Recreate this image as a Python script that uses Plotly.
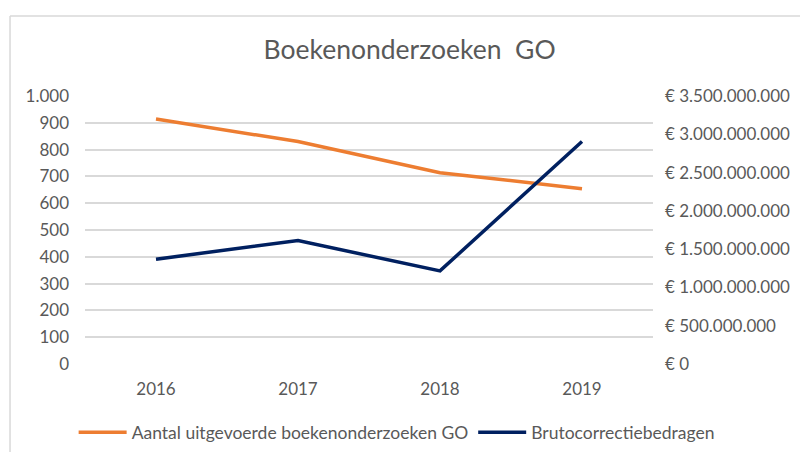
import plotly.graph_objects as go

years = ["2016", "2017", "2018", "2019"]
aantal = [914, 830, 714, 654]
bruto = [1369000000, 1612000000, 1216000000, 2906000000]
left_ticks = [0, 100, 200, 300, 400, 500, 600, 700, 800, 900, 1000]
right_ticks = [0, 500000000, 1000000000, 1500000000, 2000000000, 2500000000, 3000000000, 3500000000]

def eur(v):
    return "€ " + f"{v:,d}".replace(",", ".")

def num(v):
    return f"{v:,d}".replace(",", ".")

font_fam = "Lato, Open Sans, sans-serif"
gray = "#595959"

fig = go.Figure()
fig.add_trace(go.Scatter(x=years, y=aantal, mode="lines", name="Aantal uitgevoerde boekenonderzoeken GO",
                         line=dict(color="#ED7D31", width=3.5), yaxis="y"))
fig.add_trace(go.Scatter(x=years, y=bruto, mode="lines", name="Brutocorrectiebedragen",
                         line=dict(color="#002060", width=3.5), yaxis="y2"))

fig.update_layout(
    width=800, height=452,
    margin=dict(l=85, r=147, t=96, b=88, autoexpand=False),
    paper_bgcolor="white", plot_bgcolor="white",
    font=dict(family=font_fam, color=gray, size=17),
    title=dict(text="Boekenonderzoeken  GO", x=0.512, xanchor="center", y=0.89, yanchor="middle",
               font=dict(size=26.5, color=gray, family=font_fam)),
    xaxis=dict(type="category", range=[-0.5, 3.5], showgrid=False, zeroline=False, showline=False,
               automargin=False, tickfont=dict(size=17, color=gray), ticklabelstandoff=13),
    yaxis=dict(range=[0, 1000], tickvals=left_ticks, ticktext=[num(v) for v in left_ticks],
               showgrid=True, gridcolor="#D9D9D9", gridwidth=1.5, zeroline=False, showline=False,
               automargin=False, tickfont=dict(size=17, color=gray), ticklabelstandoff=15),
    yaxis2=dict(range=[0, 3500000000], tickvals=right_ticks, ticktext=[eur(v) for v in right_ticks],
                overlaying="y", side="right", showgrid=False, zeroline=False, showline=False,
                automargin=False, tickfont=dict(size=17, color=gray), ticklabelstandoff=11),
    legend=dict(orientation="h", x=-0.02, xanchor="left",
                y=-0.255, yanchor="middle", font=dict(size=17.5, color=gray), itemwidth=48,
                tracegroupgap=0),
    showlegend=True,
)

# chart border (top and left edges visible in crop)
fig.add_shape(type="line", xref="paper", yref="paper", x0=-0.132, x1=1.26, y0=1.2985, y1=1.2985,
              line=dict(color="#D9D9D9", width=1.5))
fig.add_shape(type="line", xref="paper", yref="paper", x0=-0.132, x1=-0.132, y0=1.2985, y1=-0.33,
              line=dict(color="#D9D9D9", width=1.5))

fig.write_html("out.html", config={"displayModeBar": False},
               post_script="document.body.style.margin='0';document.body.style.overflow='hidden';")
